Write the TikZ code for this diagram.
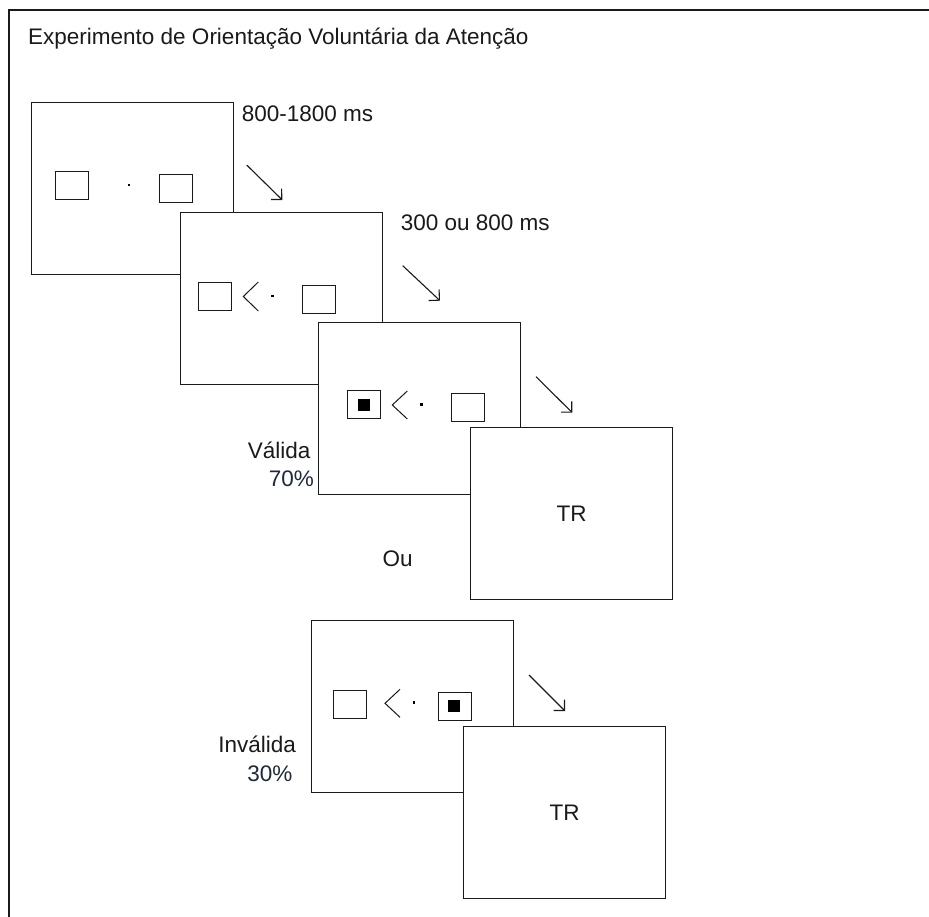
\documentclass[tikz,border=0pt]{standalone}
\usepackage{fontspec}
\setmainfont{Liberation Sans}
\usetikzlibrary{arrows.meta}
\definecolor{ink}{HTML}{1A1A1A}
\definecolor{pct}{HTML}{1E2A3A}
\tikzset{
  screen/.style={draw=ink, fill=white, line width=1.2pt, minimum width=202pt,
    minimum height=172pt, inner sep=0pt, anchor=north west,
    font=\fontsize{22.5}{27}\selectfont, text=ink},
  cuebox/.style={draw=ink, fill=white, line width=1.2pt, minimum width=33pt,
    minimum height=28pt, inner sep=0pt, anchor=north west},
  target/.style={fill=black, minimum width=12pt, minimum height=12pt,
    inner sep=0pt, anchor=north west},
  fixdot/.style={fill=black, minimum size=2.6pt, inner sep=0pt},
  chev/.style={draw=ink, line width=1pt},
  lbl/.style={inner sep=0pt, font=\fontsize{22.5}{27}\selectfont, text=ink},
  pctlbl/.style={lbl, text=pct},
  arr/.style={draw=ink, line width=1.1pt, -{Straight Barb[length=7.6pt, width=15.2pt, line width=1.1pt]}},
}
\begin{document}
\begin{tikzpicture}[x=1pt, y=-1pt]
\useasboundingbox (0,0) rectangle (929,917);
\fill[white] (0,0) rectangle (929,917);

% outer frame (only its top and left edges fall on the page)
\draw[ink, line width=1.4pt] (9,930) -- (9,10) -- (940,10);

% title
\node[lbl, anchor=base west] (title) at (28,45) {Experimento de Orientação Voluntária da Atenção};

% screen 1: fixation
\node[screen] (s1) at (31,102) {};
\node[cuebox] (s1l) at (55,171) {};
\node[cuebox] (s1r) at (159,174) {};
\node[fixdot] (s1d) at (129,185) {};

% screen 2: cue
\node[screen] (s2) at (180,212) {};
\node[cuebox] (s2l) at (198,282) {};
\node[cuebox] (s2r) at (302,285) {};
\draw[chev] (258.3,282) -- (243.3,296.5) -- (258.3,311);
\node[fixdot] (s2d) at (272.7,296) {};

% screen 3: valid target
\node[screen] (s3) at (318,322) {};
\node[cuebox] (s3l) at (347,390) {};
\node[target] (s3t) at (357.5,398.5) {};
\node[cuebox] (s3r) at (451,393) {};
\draw[chev] (407.3,391) -- (392.3,405) -- (407.3,419);
\node[fixdot] (s3d) at (421.7,404.7) {};

% response screen 1
\node[screen] (tr1) at (470,427) {TR};

% screen 4: invalid target
\node[screen] (s4) at (311,620) {};
\node[cuebox] (s4l) at (333,690) {};
\node[cuebox] (s4r) at (438,692) {};
\node[target] (s4t) at (448,700) {};
\draw[chev] (400,689.3) -- (385,703.3) -- (400,717.3);
\node[fixdot] (s4d) at (414,702.7) {};

% response screen 2
\node[screen] (tr2) at (463,726) {TR};

% timing arrows
\coordinate (a1s) at (246.7,165);  \coordinate (a1e) at (282.3,200);
\coordinate (a2s) at (402.7,265.7); \coordinate (a2e) at (440,300.7);
\coordinate (a3s) at (536,376.7);  \coordinate (a3e) at (572.3,412.7);
\coordinate (a4s) at (529,675);    \coordinate (a4e) at (565,711);
\draw[arr] (a1s) -- (a1e);
\draw[arr] (a2s) -- (a2e);
\draw[arr] (a3s) -- (a3e);
\draw[arr] (a4s) -- (a4e);

% labels
\node[lbl, anchor=base west] (t1) at (241.7,122) {800-1800 ms};
\node[lbl, anchor=base west] (t2) at (400.7,230.7) {300 ou 800 ms};
\node[lbl, anchor=base east] (val) at (310.5,458.3) {Válida};
\node[pctlbl, anchor=base east] (valp) at (314,486.7) {70\%};
\node[lbl, anchor=base west] (ou) at (382.3,566.7) {Ou};
\node[lbl, anchor=base east] (inv) at (296,752.7) {Inválida};
\node[pctlbl, anchor=base east] (invp) at (292.5,781.7) {30\%};
\end{tikzpicture}
\end{document}
